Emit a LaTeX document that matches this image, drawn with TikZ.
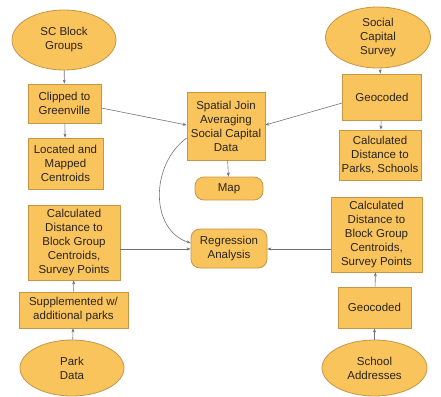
\documentclass[tikz,border=0pt]{standalone}
\usepackage{fontspec}
\setmainfont{Liberation Sans}
\usetikzlibrary{shapes.geometric,arrows.meta}
\definecolor{boxfill}{RGB}{250,196,92}
\definecolor{boxline}{RGB}{196,150,70}
\definecolor{txt}{RGB}{40,36,32}
\definecolor{conn}{RGB}{110,115,125}
\begin{document}
\begin{tikzpicture}[x=1pt,y=-1pt,
  base/.style={fill=boxfill,draw=boxline,line width=0.8pt,text=txt,align=center,
    font=\fontsize{11.5}{14}\selectfont,inner sep=0pt},
  oval/.style={base,ellipse},
  box/.style={base,rectangle},
  pill/.style={base,rectangle,rounded corners=9pt},
  arr/.style={draw=conn,line width=0.6pt,-{Stealth[length=4pt,width=3pt,fill=txt]}}]
\useasboundingbox (0,0) rectangle (441,396);
\node[oval,minimum width=104,minimum height=60] (scbg) at (64,40) {SC Block\\Groups};
\node[box,minimum width=73,minimum height=39] (clip) at (64.5,103.5) {Clipped to\\Greenville};
\node[box,minimum width=75,minimum height=51] (loc) at (65.5,163.5) {Located and\\Mapped\\Centroids};
\node[oval,minimum width=105,minimum height=61] (scs) at (378,37.5) {Social\\Capital\\Survey};
\node[box,minimum width=79,minimum height=46] (geo1) at (382,97) {Geocoded};
\node[box,minimum width=82,minimum height=50] (cdps) at (380,155) {Calculated\\Distance to\\Parks, Schools};
\node[box,minimum width=78,minimum height=68] (sj) at (226,126) {Spatial Join\\Averaging\\Social Capital\\Data};
\node[pill,minimum width=68,minimum height=23] (map) at (229,188.5) {Map};
\node[pill,minimum width=76,minimum height=39] (reg) at (229,248.5) {Regression\\Analysis};
\node[box,minimum width=92,minimum height=75] (cdl) at (74,242.5) {Calculated\\Distance to\\Block Group\\Centroids,\\Survey Points};
\node[box,minimum width=109,minimum height=36] (sup) at (73.5,310) {Supplemented w/\\additional parks};
\node[oval,minimum width=104,minimum height=56] (park) at (72,368) {Park\\Data};
\node[box,minimum width=91,minimum height=75] (cdr) at (376.5,234.5) {Calculated\\Distance to\\Block Group\\Centroids,\\Survey Points};
\node[box,minimum width=73,minimum height=41] (geo2) at (374.5,307.5) {Geocoded};
\node[oval,minimum width=105,minimum height=56] (school) at (374.5,368) {School\\Addresses};
\draw[arr] (scbg) -- (clip);
\draw[arr] (clip) -- (loc);
\draw[arr] (clip.east |- 0,108) -- (sj.west |- 0,125);
\draw[arr] (geo1.west |- 0,103) -- (sj.east |- 0,125);
\draw[arr] (scs) -- (geo1);
\draw[arr] (geo1) -- (cdps);
\draw[arr] (sj) -- (map);
\draw[arr] (sj.west |- 0,138) .. controls (150,165) and (150,230) .. (reg.west |- 0,243);
\draw[arr] (cdl.east |- 0,249) -- (reg.west |- 0,249);
\draw[arr] (cdr.west |- 0,249) -- (reg.east |- 0,249);
\draw[arr] (sup) -- (cdl);
\draw[arr] (park) -- (sup);
\draw[arr] (school) -- (geo2);
\draw[arr] (geo2) -- (cdr);
\end{tikzpicture}
\end{document}
